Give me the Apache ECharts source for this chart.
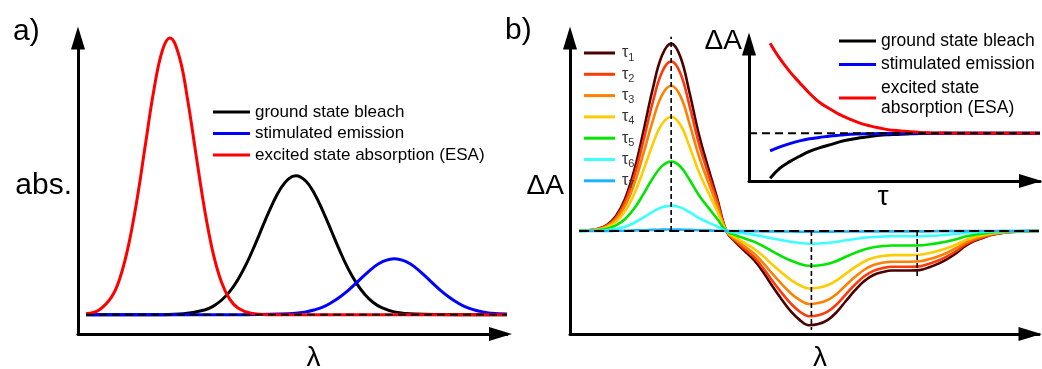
<!DOCTYPE html>
<html>
<head>
<meta charset="utf-8">
<title>Transient absorption schematic</title>
<script src="https://cdn.jsdelivr.net/npm/echarts@6.0.0/dist/echarts.min.js"></script>
<style>
  html, body { margin: 0; padding: 0; background: #fff; }
  #chart { width: 1042px; height: 369px; }
</style>
</head>
<body>
<div id="chart"></div>
<script>
  const FONT = '"Liberation Sans", Arial, sans-serif'

  // a) steady state spectra (lambda and abs. in arbitrary units)
  const esaLambda = [1.9, 5, 8, 10, 12, 14, 16, 18, 20, 21.8, 24, 26, 28, 30, 32, 34, 36, 38, 41, 45, 60, 80, 101.7]
  const esaAbs = [0.003, 0.017, 0.065, 0.135, 0.252, 0.417, 0.617, 0.813, 0.955, 1.0, 0.933, 0.776, 0.576, 0.381, 0.224, 0.118, 0.055, 0.023, 0.005, 0, 0, 0, 0]

  const gsbLambda = [1.9, 20, 25, 30, 32, 34, 36, 38, 40, 42, 44, 46, 48, 50, 51.7, 54, 56, 58, 60, 62, 64, 66, 68, 70, 72, 75, 80, 90, 101.7]
  const gsbAbs = [0, 0, 0.003, 0.017, 0.030, 0.052, 0.084, 0.129, 0.186, 0.254, 0.327, 0.397, 0.455, 0.492, 0.502, 0.483, 0.439, 0.376, 0.305, 0.233, 0.167, 0.114, 0.073, 0.044, 0.025, 0.010, 0.002, 0, 0]

  const seLambda = [1.9, 40, 50, 54, 56, 58, 60, 62, 64, 66, 68, 70, 72, 75, 78, 80, 82, 84, 86, 88, 90, 92, 94, 96, 98, 101.7]
  const seAbs = [0, 0, 0.003, 0.010, 0.017, 0.027, 0.043, 0.063, 0.087, 0.115, 0.144, 0.170, 0.190, 0.202, 0.190, 0.170, 0.144, 0.115, 0.087, 0.063, 0.043, 0.027, 0.017, 0.010, 0.005, 0.002]

  const zeroLambdaA = [1.9, 101.7]

  // b) transient spectra at delays tau1..tau7
  const lambdaB = [2, 4, 6, 8, 10, 12, 14, 16, 18, 20, 22, 24, 26, 28, 30, 32, 34, 36, 38, 40, 42, 44, 46, 48, 50,
    52, 54, 56, 58, 60, 62, 64, 66, 68, 70, 72, 74, 76, 78, 80, 82, 84, 86, 88, 90, 92, 94, 96, 98, 100, 102]
  const tau1 = [0.001, 0.004, 0.011, 0.032, 0.080, 0.174, 0.326, 0.535, 0.759, 0.936, 1.000, 0.930, 0.738, 0.519, 0.342, 0.176, 0.000,
    -0.059, -0.107, -0.155, -0.219, -0.294, -0.364, -0.428, -0.476, -0.503, -0.497, -0.476, -0.433, -0.374, -0.316, -0.267, -0.235,
    -0.219, -0.211, -0.211, -0.211, -0.209, -0.195, -0.176, -0.150, -0.118, -0.080, -0.053, -0.035, -0.019, -0.011, -0.005, -0.003, -0.001, 0]
  const tau2 = [0.001, 0.004, 0.010, 0.029, 0.072, 0.157, 0.295, 0.484, 0.687, 0.847, 0.905, 0.842, 0.668, 0.470, 0.310, 0.159, 0.000,
    -0.053, -0.097, -0.140, -0.198, -0.266, -0.329, -0.387, -0.431, -0.455, -0.450, -0.431, -0.392, -0.338, -0.286, -0.242, -0.213,
    -0.198, -0.191, -0.191, -0.191, -0.189, -0.176, -0.159, -0.136, -0.107, -0.072, -0.048, -0.032, -0.017, -0.010, -0.005, -0.003, -0.001, 0]
  const tau3 = [0.001, 0.003, 0.009, 0.025, 0.062, 0.135, 0.253, 0.415, 0.588, 0.725, 0.775, 0.721, 0.572, 0.402, 0.265, 0.136, 0.000,
    -0.046, -0.083, -0.120, -0.170, -0.228, -0.282, -0.332, -0.369, -0.390, -0.385, -0.369, -0.336, -0.290, -0.245, -0.207, -0.182,
    -0.170, -0.164, -0.164, -0.164, -0.162, -0.151, -0.136, -0.116, -0.091, -0.062, -0.041, -0.027, -0.015, -0.009, -0.004, -0.002, -0.001, 0]
  const tau4 = [0.001, 0.002, 0.007, 0.020, 0.049, 0.106, 0.199, 0.326, 0.463, 0.571, 0.610, 0.567, 0.450, 0.317, 0.209, 0.107, 0.000,
    -0.036, -0.065, -0.095, -0.134, -0.179, -0.222, -0.261, -0.290, -0.307, -0.303, -0.290, -0.264, -0.228, -0.193, -0.163, -0.143,
    -0.134, -0.129, -0.129, -0.129, -0.127, -0.119, -0.107, -0.092, -0.072, -0.049, -0.032, -0.021, -0.012, -0.007, -0.003, -0.002, -0.001, 0]
  const tau5 = [0, 0.001, 0.004, 0.012, 0.030, 0.064, 0.121, 0.198, 0.281, 0.346, 0.370, 0.344, 0.273, 0.192, 0.127, 0.065, 0.000,
    -0.022, -0.040, -0.057, -0.081, -0.109, -0.135, -0.158, -0.176, -0.186, -0.184, -0.176, -0.160, -0.138, -0.117, -0.099, -0.087,
    -0.081, -0.078, -0.078, -0.078, -0.077, -0.072, -0.065, -0.056, -0.044, -0.030, -0.020, -0.013, -0.007, -0.004, -0.002, -0.001, 0, 0]
  const tau6 = [0, 0.001, 0.001, 0.004, 0.011, 0.023, 0.044, 0.072, 0.102, 0.126, 0.135, 0.126, 0.100, 0.070, 0.046, 0.024, 0.000,
    -0.008, -0.014, -0.021, -0.030, -0.040, -0.049, -0.058, -0.064, -0.068, -0.067, -0.064, -0.058, -0.050, -0.043, -0.036, -0.032,
    -0.030, -0.028, -0.028, -0.028, -0.028, -0.026, -0.024, -0.020, -0.016, -0.011, -0.007, -0.005, -0.003, -0.001, -0.001, 0, 0, 0]
  const tau7 = [0, 0, 0, 0, 0.001, 0.001, 0.003, 0.004, 0.006, 0.007, 0.008, 0.007, 0.006, 0.004, 0.003, 0.001, 0.000,
    0, -0.001, -0.001, -0.002, -0.002, -0.003, -0.003, -0.004, -0.004, -0.004, -0.004, -0.003, -0.003, -0.003, -0.002, -0.002,
    -0.002, -0.002, -0.002, -0.002, -0.002, -0.002, -0.001, -0.001, -0.001, -0.001, 0, 0, 0, 0, 0, 0, 0, 0]
  const tauNames = ['τ1', 'τ2', 'τ3', 'τ4', 'τ5', 'τ6', 'τ7']
  const tauColors = ['#4d0000', '#ff3a0a', '#ff8000', '#ffcc00', '#00e600', '#3cffff', '#1ab4ff']
  const zeroLambdaB = [2, 102]
  // dashed guides: peak of the ESA band, GSB minimum and SE shoulder
  const guideLambda = [22, 52.5, 75.5]
  const guideReach = [1.037, -0.529, -0.245]

  // b) inset: kinetics versus delay tau
  const delay = [7.5, 11, 14.5, 18, 21.5, 25, 29, 32.5, 36, 39.5, 43, 46.5, 50, 54, 57.5, 61, 66, 71.5, 78.5, 89, 103.5]
  const esaKin = [0.999, 0.827, 0.684, 0.561, 0.444, 0.344, 0.267, 0.203, 0.154, 0.112, 0.082, 0.058, 0.037, 0.026, 0.016, 0.009, 0.003, 0.001, 0, 0, 0]
  const seKin = [-0.196, -0.151, -0.115, -0.085, -0.062, -0.047, -0.030, -0.021, -0.011, -0.008, -0.006, -0.003, -0.002, -0.001, 0, 0, 0, 0, 0, 0, 0]
  const gsbKin = [-0.499, -0.388, -0.315, -0.255, -0.202, -0.162, -0.127, -0.093, -0.070, -0.050, -0.036, -0.022, -0.016, -0.010, -0.007, -0.004, -0.002, -0.001, 0, 0, 0]
  const zeroDelay = [0, 103.5]

  const NAMES = ['ground state bleach', 'stimulated emission', 'excited state absorption (ESA)']

  const chart = echarts.init(document.getElementById('chart'))

  function pairs(xs, ys) {
    return xs.map((x, i) => [x, ys[i]])
  }

  function curve(name, xs, ys, color, width, idx) {
    return {
      type: 'line', name: name, xAxisIndex: idx, yAxisIndex: idx,
      data: pairs(xs, ys), symbol: 'none', smooth: 0.4, clip: false, silent: true,
      lineStyle: { color: color, width: width }, itemStyle: { color: color }
    }
  }

  function dashed(xs, ys, width, dash, idx) {
    return {
      type: 'line', xAxisIndex: idx, yAxisIndex: idx, data: pairs(xs, ys),
      symbol: 'none', clip: false, silent: true, z: 5,
      lineStyle: { color: '#000', width: width, type: dash }
    }
  }

  // the arrow head is pulled back so the curves may run under it
  function axisLine(back) {
    return {
      onZero: false,
      symbol: ['none', 'triangle'],
      symbolSize: [14, 23],
      symbolOffset: [0, -back],
      lineStyle: { color: '#000', width: 3 }
    }
  }

  function xAx(idx, max, name, gap, pad, back) {
    return {
      type: 'value', gridIndex: idx, min: 0, max: max,
      name: name, nameLocation: 'middle', nameGap: gap,
      nameTextStyle: { fontSize: 28, color: '#000', fontFamily: FONT, padding: pad },
      axisLine: axisLine(back), axisTick: { show: false }, axisLabel: { show: false }, splitLine: { show: false }
    }
  }

  function yAx(idx, min, max, name, size, gap) {
    return {
      type: 'value', gridIndex: idx, min: min, max: max,
      name: name, nameLocation: 'middle', nameRotate: 0, nameGap: gap,
      nameTextStyle: { fontSize: size, color: '#000', fontFamily: FONT },
      axisLine: axisLine(0), axisTick: { show: false }, axisLabel: { show: false }, splitLine: { show: false }
    }
  }

  const series = [
    // panel a
    curve(NAMES[0], gsbLambda, gsbAbs, '#000', 3, 0),
    curve(NAMES[1], seLambda, seAbs, '#0000ff', 3, 0),
    curve(NAMES[2], esaLambda, esaAbs, '#ff0000', 3, 0),
    dashed(zeroLambdaA, [0, 0], 1.6, [8, 5], 0)
  ]
  // panel b spectra
  const tauData = [tau1, tau2, tau3, tau4, tau5, tau6, tau7]
  tauData.forEach((vals, i) => {
    series.push(curve(tauNames[i], lambdaB, vals, tauColors[i], 2.6, 1))
  })
  series.push(dashed(zeroLambdaB, [0, 0], 2, [10, 5], 1))
  guideLambda.forEach((x, i) => {
    series.push(dashed([x, x], [0, guideReach[i]], 1.6, [5, 3], 1))
  })
  // panel b inset
  series.push(curve(NAMES[0], delay, gsbKin, '#000', 3, 2))
  series.push(curve(NAMES[1], delay, seKin, '#0000ff', 3, 2))
  series.push(curve(NAMES[2], delay, esaKin, '#ff0000', 3, 2))
  series.push(dashed(zeroDelay, [0, 0], 2, [8, 5], 2))

  const option = {
    animation: false,
    backgroundColor: '#fff',
    textStyle: { fontFamily: FONT },
    grid: [
      { left: 78, top: 38, width: 429, height: 296, outerBoundsMode: 'none' },
      { left: 570, top: 38, width: 469, height: 296, outerBoundsMode: 'none' },
      { left: 749, top: 44, width: 291, height: 137, outerBoundsMode: 'none' }
    ],
    xAxis: [
      xAx(0, 101.7, 'λ', 10, [0, 0, 0, 42], 6.5),
      xAx(1, 102, 'λ', 10, [0, 0, 0, 31], 9),
      xAx(2, 103.5, 'τ', 2, [0, 23, 0, 0], 9.5)
    ],
    yAxis: [
      yAx(0, -0.07, 1.0, 'abs.', 30, 6),
      yAx(1, -0.55, 1.03, 'ΔA', 28, 6),
      yAx(2, -0.53, 0.99, '', 28, 6)
    ],
    legend: [
      {
        left: 213, top: 102.5, padding: 0, orient: 'vertical', itemWidth: 37, itemHeight: 3, itemGap: 2.5,
        icon: 'rect', selectedMode: false, data: NAMES,
        textStyle: { fontSize: 17, lineHeight: 19, color: '#000', fontFamily: FONT }
      },
      {
        left: 584, top: 45, padding: 0, orient: 'vertical', itemWidth: 31, itemHeight: 3, itemGap: 3.3,
        icon: 'rect', selectedMode: false, data: tauNames,
        formatter: name => '{t|τ}{s|' + name.slice(1) + '}',
        textStyle: {
          color: '#333', fontFamily: FONT,
          rich: {
            t: { fontSize: 16, lineHeight: 20, color: '#333', fontFamily: FONT, padding: [0, 0, 0, 2] },
            s: { fontSize: 11, verticalAlign: 'bottom', color: '#333', fontFamily: FONT }
          }
        }
      },
      {
        left: 839, top: 31, padding: 0, orient: 'vertical', itemWidth: 37, itemHeight: 3, itemGap: 3.5,
        icon: 'rect', selectedMode: false, data: NAMES,
        formatter: name => name === NAMES[2] ? 'excited state\nabsorption (ESA)' : name,
        textStyle: { fontSize: 17.5, lineHeight: 20, color: '#000', fontFamily: FONT }
      }
    ],
    graphic: [
      { type: 'text', left: 13, top: 17, style: { text: 'a)', font: '30px ' + FONT, fill: '#000' } },
      { type: 'text', left: 505, top: 16, style: { text: 'b)', font: '30px ' + FONT, fill: '#000' } },
      { type: 'text', right: 300, top: 27, style: { text: 'ΔA', font: '28px ' + FONT, fill: '#000' } }
    ],
    series: series
  }

  chart.setOption(option)
</script>
</body>
</html>
